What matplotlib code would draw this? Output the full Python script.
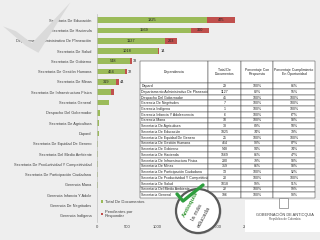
import matplotlib
matplotlib.use('Agg')
import matplotlib.pyplot as plt
from matplotlib.patches import Polygon, Circle, Rectangle

plt.rcParams['font.family'] = ['Liberation Sans', 'DejaVu Sans']

# Datos del gráfico (de arriba hacia abajo)
dependencias = [
    'Secretaria De Educación', 'Secretaria De Hacienda',
    'Departamento Administrativo De Planeación', 'Secretaria De Salud',
    'Secretaria De Gobierno', 'Secretaria De Gestión Humana',
    'Secretaria De Minas', 'Secretaria De Infraestructura Física',
    'Secretaria General', 'Despacho Del Gobernador',
    'Secretaria De Agricultura', 'Dapard',
    'Secretaria De Equidad De Genero', 'Secretaria Del Medio Ambiente',
    'Secretaria De Productividad Y Competitividad',
    'Secretaria De Participación Ciudadana', 'Gerencia Mana',
    'Gerencia Infancia Y Adole', 'Gerencia De Negritudes', 'Gerencia Indígena',
]
total_docs = [1825, 1569, 1127, 1018, 548, 464, 319, 230, 196, 45,
              38, 29, 25, 22, 20, 13, 10, 6, 7, 1]
pendientes = [475, 300, 203, 14, 33, 32, 44, 48, 0, 0,
              4, 0, 0, 0, 0, 0, 0, 0, 0, 0]
etiqueta_verde = [True] * 7 + [False] * 13
etiqueta_roja = [True] * 7 + [False] * 13

# Datos de la tabla
tabla_cols = ['Dependencia', 'Total De\nDocumentos', 'Porcentaje Con\nRespuesta',
              'Porcentaje Cumplimiento\nEn Oportunidad']
tabla_dep = ['Dapard', 'Departamento Administrativo De Planeación',
             'Despacho Del Gobernador', 'Gerencia De Negritudes', 'Gerencia Indígena',
             'Gerencia Infancia Y Adolescencia', 'Gerencia Mana',
             'Secretaria De Agricultura', 'Secretaria De Educación',
             'Secretaria De Equidad De Genero', 'Secretaria De Gestión Humana',
             'Secretaria De Gobierno', 'Secretaria De Hacienda',
             'Secretaria De Infraestructura Física', 'Secretaria De Minas',
             'Secretaria De Participación Ciudadana',
             'Secretaria De Productividad Y Competitividad', 'Secretaria De Salud',
             'Secretaria Del Medio Ambiente', 'Secretaria General']
tabla_total = [29, 1127, 45, 7, 1, 6, 10, 38, 1825, 25, 464, 548, 1569, 230, 319,
               13, 20, 1018, 22, 196]
tabla_resp = ['100%', '82%', '100%', '100%', '100%', '100%', '100%', '89%', '74%',
              '100%', '93%', '94%', '86%', '79%', '86%', '100%', '100%', '99%',
              '100%', '100%']
tabla_oport = ['86%', '55%', '100%', '100%', '100%', '67%', '90%', '50%', '39%',
               '100%', '87%', '74%', '47%', '90%', '90%', '92%', '100%', '91%',
               '99%', '98%']

verde = '#9bbb59'
rojo = '#c0504d'
fondo = '#eeeeee'

fig = plt.figure(figsize=(3.2, 2.4), dpi=100)
fig.patch.set_facecolor(fondo)

# Marca de agua (check gris)
fig.patches.append(Polygon([(0.01, 0.89), (0.05, 0.87), (0.10, 0.82), (0.22, 0.99),
                            (0.12, 0.78), (0.08, 0.81)],
                           closed=True, transform=fig.transFigure,
                           facecolor='#dadada', edgecolor='none', zorder=0))

ax = fig.add_axes([0.303, 0.075, 0.469, 0.867])
ax.set_facecolor('none')
y = list(range(len(dependencias)))
ax.barh(y, total_docs, height=0.55, color=verde, label='Total De Documentos')
ax.barh(y, pendientes, left=total_docs, height=0.55, color=rojo,
        label='Pendientes por\nResponder')
ax.set_ylim(len(dependencias) - 0.4, -0.6)
ax.set_xlim(0, 2500)
ax.set_yticks(y)
ax.set_yticklabels(dependencias, fontsize=2.8, color='#404040')
ax.set_xticks([0, 500, 1000, 1500, 2000, 2500])
ax.tick_params(axis='x', labelsize=3.0, colors='#404040', length=0, pad=2)
ax.tick_params(axis='y', length=0, pad=4)
for s in ['top', 'right', 'bottom']:
    ax.spines[s].set_visible(False)
ax.spines['left'].set_color('#bfbfbf')
ax.spines['left'].set_linewidth(0.5)

for i in y:
    if etiqueta_verde[i]:
        ax.text(total_docs[i] / 2, i, str(total_docs[i]), ha='center', va='center',
                fontsize=2.8, color='#262626')
    if etiqueta_roja[i]:
        if pendientes[i] > 150:
            ax.text(total_docs[i] + pendientes[i] / 2, i, str(pendientes[i]),
                    ha='center', va='center', fontsize=2.8, color='#262626')
        else:
            ax.text(total_docs[i] + pendientes[i] + 25, i, str(pendientes[i]),
                    ha='left', va='center', fontsize=2.8, color='#262626')

ax.legend(loc='lower left', bbox_to_anchor=(0.0, 0.0), frameon=False, fontsize=3.0,
          handlelength=0.6, handleheight=0.6, labelspacing=1.4, handletextpad=0.4,
          labelcolor='#404040')

# Tabla
tax = fig.add_axes([140 / 320, (240 - 198) / 240, 175 / 320, 137 / 240])
tax.axis('off')
celdas = [[d, str(t), r, o] for d, t, r, o in zip(tabla_dep, tabla_total, tabla_resp, tabla_oport)]
tabla = tax.table(cellText=celdas, colLabels=tabla_cols, bbox=[0, 0, 1, 1],
                  colWidths=[68, 33, 32, 42], cellLoc='center')
tabla.auto_set_font_size(False)
tabla.set_fontsize(2.5)
for (r, c), cell in tabla.get_celld().items():
    cell.set_linewidth(0.35)
    cell.set_edgecolor('#404040')
    cell.set_facecolor('white')
    cell.set_height(22 if r == 0 else 5.7)
    cell.get_text().set_color('#262626')
    if r > 0 and c == 0:
        cell.get_text().set_ha('left')
        cell.PAD = 0.02

# Fondo blanco del logo de la gobernación
fig.patches.append(Rectangle((245 / 320, 8 / 240), 75 / 320, 32 / 240,
                             transform=fig.transFigure, facecolor='white',
                             edgecolor='none', zorder=1))

# Logo "Antioquia la más educada"
lax = fig.add_axes([170 / 320, 2 / 240, 55 / 320, 55 / 240])
lax.axis('off')
lax.set_xlim(0, 55)
lax.set_ylim(0, 55)
lax.set_aspect('equal')
lax.add_patch(Circle((28.5, 26.5), 23, facecolor='#c8c8c8', edgecolor='none'))
lax.add_patch(Circle((28, 27), 22, facecolor='white', edgecolor='#595959', lw=1.6))
lax.plot([7, 13, 33], [44, 37, 53], color='#2e9e3e', lw=2.4, solid_capstyle='round')
lax.text(20, 34, 'Antioquia', rotation=62, fontsize=4.4, color='#3a9a3a',
         ha='center', va='center', fontweight='bold')
lax.text(27, 26, 'la más', rotation=62, fontsize=4.4, color='#404040',
         ha='center', va='center')
lax.text(34, 21, 'educada', rotation=62, fontsize=4.4, color='#404040',
         ha='center', va='center')

# Gobernación de Antioquia
fig.patches.append(Rectangle((279 / 320, (240 - 208) / 240), 9 / 320, 10 / 240,
                             transform=fig.transFigure, facecolor='white',
                             edgecolor='#7f7f7f', lw=0.5, zorder=2))
fig.text(285 / 320, (240 - 215) / 240, 'GOBERNACIÓN DE ANTIOQUIA', fontsize=2.8,
         color='#404040', ha='center', va='center', zorder=3)
fig.text(285 / 320, (240 - 219) / 240, 'República de Colombia', fontsize=2.2,
         color='#595959', ha='center', va='center', zorder=3)

fig.savefig('out.png', dpi=100, facecolor=fig.get_facecolor())
